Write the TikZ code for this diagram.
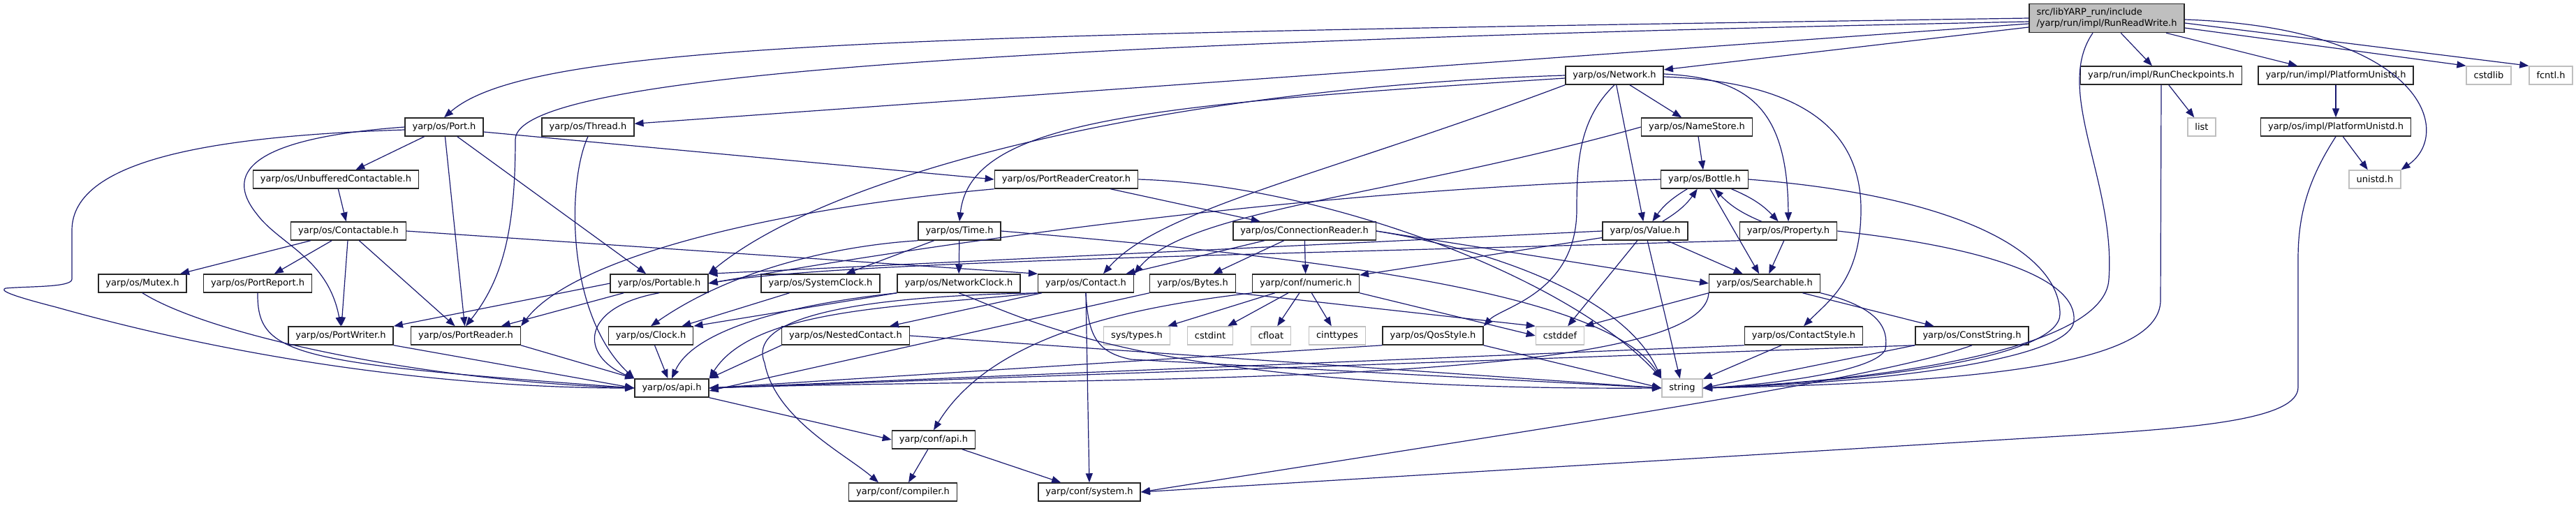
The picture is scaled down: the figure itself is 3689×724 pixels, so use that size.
\documentclass[tikz,border=0pt]{standalone}
\usepackage{fontspec}
\setmainfont{DejaVu Sans}
\usetikzlibrary{arrows.meta}
\definecolor{edgeblue}{HTML}{191970}

\begin{document}
\begin{tikzpicture}[x=1pt, y=-1pt,
  hdr/.style={draw=black!85, fill=white, line width=1.5pt, minimum height=26pt,
    inner xsep=10.5pt, inner ysep=0pt, font=\fontsize{13}{15.5}\selectfont},
  sys/.style={hdr, draw=black!25},
  top/.style={hdr, fill=black!25, align=left, minimum height=41pt},
  inc/.style={draw=edgeblue, line width=1.2pt, -{Triangle[length=13pt,width=10pt]}}]
  \useasboundingbox (0,0) rectangle (3689,724);

  \node[top] (root) at (3017,26) {src/libYARP\_run/include\\/yarp/run/impl/RunReadWrite.h};

  \node[hdr] (network) at (2312,108) {yarp/os/Network.h};
  \node[hdr] (runcheck) at (3095,108) {yarp/run/impl/RunCheckpoints.h};
  \node[hdr] (runplat) at (3345,108) {yarp/run/impl/PlatformUnistd.h};
  \node[sys] (cstdlib) at (3564,108) {cstdlib};
  \node[sys] (fcntl) at (3653,108) {fcntl.h};

  \node[hdr] (port) at (636,182) {yarp/os/Port.h};
  \node[hdr] (thread) at (842,182) {yarp/os/Thread.h};
  \node[hdr] (namestore) at (2430,182) {yarp/os/NameStore.h};
  \node[sys] (list) at (3153,182) {list};
  \node[hdr] (osplat) at (3345,182) {yarp/os/impl/PlatformUnistd.h};

  \node[hdr] (unbuffered) at (481,257) {yarp/os/UnbufferedContactable.h};
  \node[hdr] (prcreator) at (1527,257) {yarp/os/PortReaderCreator.h};
  \node[hdr] (bottle) at (2441,257) {yarp/os/Bottle.h};
  \node[sys] (unistd) at (3401,257) {unistd.h};

  \node[hdr] (contactable) at (499,331) {yarp/os/Contactable.h};
  \node[hdr] (time) at (1374,331) {yarp/os/Time.h};
  \node[hdr] (connreader) at (1868,331) {yarp/os/ConnectionReader.h};
  \node[hdr] (value) at (2356,331) {yarp/os/Value.h};
  \node[hdr] (property) at (2561,331) {yarp/os/Property.h};

  \node[hdr] (mutex) at (204,406) {yarp/os/Mutex.h};
  \node[hdr] (portreport) at (369,406) {yarp/os/PortReport.h};
  \node[hdr] (portable) at (944,406) {yarp/os/Portable.h};
  \node[hdr] (sysclock) at (1175,406) {yarp/os/SystemClock.h};
  \node[hdr] (netclock) at (1373,406) {yarp/os/NetworkClock.h};
  \node[hdr] (contact) at (1555,406) {yarp/os/Contact.h};
  \node[hdr] (bytes) at (1708,406) {yarp/os/Bytes.h};
  \node[hdr] (numeric) at (1870,406) {yarp/conf/numeric.h};
  \node[hdr] (searchable) at (2527,406) {yarp/os/Searchable.h};

  \node[hdr] (portwriter) at (488,481) {yarp/os/PortWriter.h};
  \node[hdr] (portreader) at (667,481) {yarp/os/PortReader.h};
  \node[hdr] (clock) at (932,481) {yarp/os/Clock.h};
  \node[hdr] (nested) at (1211,481) {yarp/os/NestedContact.h};
  \node[sys] (systypes) at (1628,481) {sys/types.h};
  \node[sys] (cstdint) at (1733,481) {cstdint};
  \node[sys] (cfloat) at (1820,481) {cfloat};
  \node[sys] (cinttypes) at (1915,481) {cinttypes};
  \node[hdr] (qosstyle) at (2052,481) {yarp/os/QosStyle.h};
  \node[sys] (cstddef) at (2234,481) {cstddef};
  \node[hdr] (contactstyle) at (2583,481) {yarp/os/ContactStyle.h};
  \node[hdr] (conststring) at (2824,481) {yarp/os/ConstString.h};

  \node[hdr] (api) at (962,556) {yarp/os/api.h};
  \node[sys] (string) at (2409,556) {string};
  \node[hdr] (confapi) at (1337,630) {yarp/conf/api.h};
  \node[hdr] (compiler) at (1293,705) {yarp/conf/compiler.h};
  \node[hdr] (system) at (1560,705) {yarp/conf/system.h};

  \draw[inc] (root.west) .. controls (1300,50) and (760,60) .. (port.north);
  \draw[inc] ([yshift=-5pt]root.west) .. controls (1400,62) and (738,110) .. (738,200) .. controls (738,330) and (720,400) .. (portreader.north);
  \draw[inc] (root) -- (thread);
  \draw[inc] (root) -- (network);
  \draw[inc] (root) -- (runcheck);
  \draw[inc] (root) -- (runplat);
  \draw[inc] ([yshift=-14pt]root.east) -- (cstdlib.north west);
  \draw[inc] ([yshift=-7pt]root.east) -- (fcntl.north west);
  \draw[inc] ([yshift=-2pt]root.east) .. controls (3470,40) and (3515,190) .. (unistd.north east);
  \draw[inc] ([xshift=-20pt]root.south) .. controls (2940,130) and (3030,260) .. (3020,400) .. controls (3015,500) and (2700,545) .. (string.east);
  \draw[inc] (runcheck) -- (list);
  \draw[inc] (runcheck.south) -- (3094,430) .. controls (3094,520) and (2850,548) .. (string.east);
  \draw[inc] (runplat) -- (osplat);
  \draw[inc] (osplat) -- (unistd);
  \draw[inc] (osplat.south) .. controls (3310,250) and (3291,300) .. (3291,370) -- (3291,555) .. controls (3291,600) and (3150,612) .. (3000,622) -- (system.east);

  \draw[inc] (network) -- (namestore);
  \draw[inc] (network) -- (value);
  \draw[inc] ([yshift=2pt]network.east) .. controls (2500,112) and (2560,150) .. (property.north);
  \draw[inc] ([yshift=-2pt]network.east) .. controls (2600,118) and (2665,200) .. (2665,300) .. controls (2665,400) and (2620,430) .. (contactstyle.north);
  \draw[inc] (network.south) .. controls (2262,170) and (2258,230) .. (2258,300) .. controls (2258,420) and (2150,440) .. (qosstyle.north east);
  \draw[inc] (network.west) .. controls (1700,125) and (1200,240) .. (portable.north east);
  \draw[inc] ([yshift=-4pt]network.west) .. controls (1650,150) and (1390,170) .. (time.north);
  \draw[inc] (network.south west) .. controls (1900,250) and (1660,300) .. ([xshift=25pt]contact.north);

  \draw[inc] (port) -- (unbuffered);
  \draw[inc] ([yshift=-7pt]port.east) -- (prcreator.west);
  \draw[inc] (port) -- (portable);
  \draw[inc] (port) -- (portreader);
  \draw[inc] (port.west) .. controls (330,200) and (330,260) .. (368,307) .. controls (400,350) and (470,370) .. (portwriter.north);
  \draw[inc] ([yshift=-4pt]port.west) .. controls (300,195) and (103,230) .. (103,330) -- (103,400) .. controls (103,412) and (40,410) .. (8,413) .. controls (0,416) and (10,422) .. (80,440) .. controls (400,530) and (700,556) .. (api.west);
  \draw[inc] (thread.south) .. controls (812,260) and (810,450) .. (api.north west);

  \draw[inc] (namestore) -- (bottle);
  \draw[inc] (namestore.west) .. controls (2000,280) and (1700,300) .. (contact.north east);
  \draw[inc] (unbuffered) -- (contactable);

  \draw[inc] (prcreator.south west) .. controls (1100,300) and (820,370) .. (portreader.north east);
  \draw[inc] (prcreator) -- (connreader);
  \draw[inc] (prcreator.east) .. controls (1900,265) and (2250,400) .. (string.north west);

  \draw[inc] (bottle) to[bend right=12] (value);
  \draw[inc] (value) to[bend right=12] (bottle);
  \draw[inc] (bottle) to[bend left=12] (property);
  \draw[inc] (property) to[bend left=12] (bottle);
  \draw[inc] (bottle.west) .. controls (1800,275) and (1250,365) .. (portable.east);
  \draw[inc] (bottle) -- (searchable);
  \draw[inc] (bottle.east) .. controls (2800,280) and (2950,360) .. (2950,450) .. controls (2950,510) and (2700,545) .. (string.east);

  \draw[inc] (value.west) -- (portable.north east);
  \draw[inc] (value) -- (searchable);
  \draw[inc] (value) -- (numeric);
  \draw[inc] (value) -- (cstddef);
  \draw[inc] (value) -- (string);

  \draw[inc] (property.south west) .. controls (1800,365) and (1200,375) .. (portable.east);
  \draw[inc] (property) -- (searchable);
  \draw[inc] (property.east) .. controls (2850,355) and (2975,400) .. (2970,460) .. controls (2965,515) and (2700,548) .. (string.east);

  \draw[inc] (contactable) -- (mutex);
  \draw[inc] (contactable) -- (portreport);
  \draw[inc] (contactable) -- (portwriter);
  \draw[inc] (contactable) -- (portreader);
  \draw[inc] (contactable.east) -- (contact.north west);

  \draw[inc] (time.south west) .. controls (1200,352) and (1050,385) .. (clock.north);
  \draw[inc] (time) -- (sysclock);
  \draw[inc] (time) -- (netclock);
  \draw[inc] (time.east) .. controls (1900,370) and (2300,420) .. (string.north west);

  \draw[inc] (connreader) -- (contact);
  \draw[inc] (connreader) -- (bytes);
  \draw[inc] (connreader) -- (numeric);
  \draw[inc] (connreader.east) -- (searchable.west);
  \draw[inc] (connreader.east) .. controls (2150,360) and (2330,430) .. (string.north west);

  \draw[inc] (searchable) -- (conststring);
  \draw[inc] (searchable.south west) -- (cstddef.north east);
  \draw[inc] (searchable.south west) .. controls (2440,560) and (1500,540) .. (api.east);
  \draw[inc] (searchable.south east) .. controls (2690,440) and (2705,470) .. (2700,500) .. controls (2690,530) and (2550,550) .. (string.east);

  \draw[inc] (mutex.south) .. controls (300,480) and (600,545) .. (api.west);
  \draw[inc] (portreport.south) .. controls (368,510) and (420,520) .. (api.west);
  \draw[inc] (portable) -- (portreader);
  \draw[inc] (portable.west) -- (portwriter.north east);
  \draw[inc] (portable.south) .. controls (830,440) and (830,510) .. (api.north west);
  \draw[inc] (sysclock) -- (clock);
  \draw[inc] (netclock.south west) -- (clock.north east);
  \draw[inc] (netclock.south west) .. controls (1100,440) and (990,480) .. (api.north);
  \draw[inc] (netclock.south) .. controls (1480,460) and (1650,560) .. (string.west);

  \draw[inc] (contact) -- (nested);
  \draw[inc] (contact.south west) .. controls (1300,440) and (1080,440) .. (api.north east);
  \draw[inc] (contact.south) -- (system.north);
  \draw[inc] (contact.south) .. controls (1558,480) and (1570,505) .. (1620,515) -- (string.west);
  \draw[inc] (contact.south west) .. controls (1200,425) and (1070,460) .. (1095,520) .. controls (1110,600) and (1210,650) .. ([xshift=-35pt]compiler.north);

  \draw[inc] (bytes.south west) -- ([yshift=-4pt]api.east);
  \draw[inc] (bytes.south east) -- (cstddef.north west);
  \draw[inc] (numeric) -- (systypes);
  \draw[inc] (numeric) -- (cstdint);
  \draw[inc] (numeric) -- (cfloat);
  \draw[inc] (numeric) -- (cinttypes);
  \draw[inc] (numeric.south east) -- (cstddef.west);
  \draw[inc] (numeric.south west) .. controls (1620,440) and (1420,480) .. (confapi.north);

  \draw[inc] (portwriter.south east) -- (api.west);
  \draw[inc] (portreader.south east) -- (api.north west);
  \draw[inc] (clock) -- (api);
  \draw[inc] (nested.south west) -- (api.north east);
  \draw[inc] (nested.east) -- (string.west);
  \draw[inc] (qosstyle.south west) -- (api.east);
  \draw[inc] (qosstyle.south east) -- (string.west);
  \draw[inc] (contactstyle.south west) -- (api.east);
  \draw[inc] (contactstyle) -- (string);
  \draw[inc] (conststring.south west) -- (api.east);
  \draw[inc] (conststring.south west) -- (string.east);
  \draw[inc] (conststring.south) .. controls (2700,540) and (2300,600) .. (system.east);

  \draw[inc] (api.south east) -- (confapi.west);
  \draw[inc] (confapi) -- (compiler);
  \draw[inc] (confapi) -- (system);
\end{tikzpicture}
\end{document}
